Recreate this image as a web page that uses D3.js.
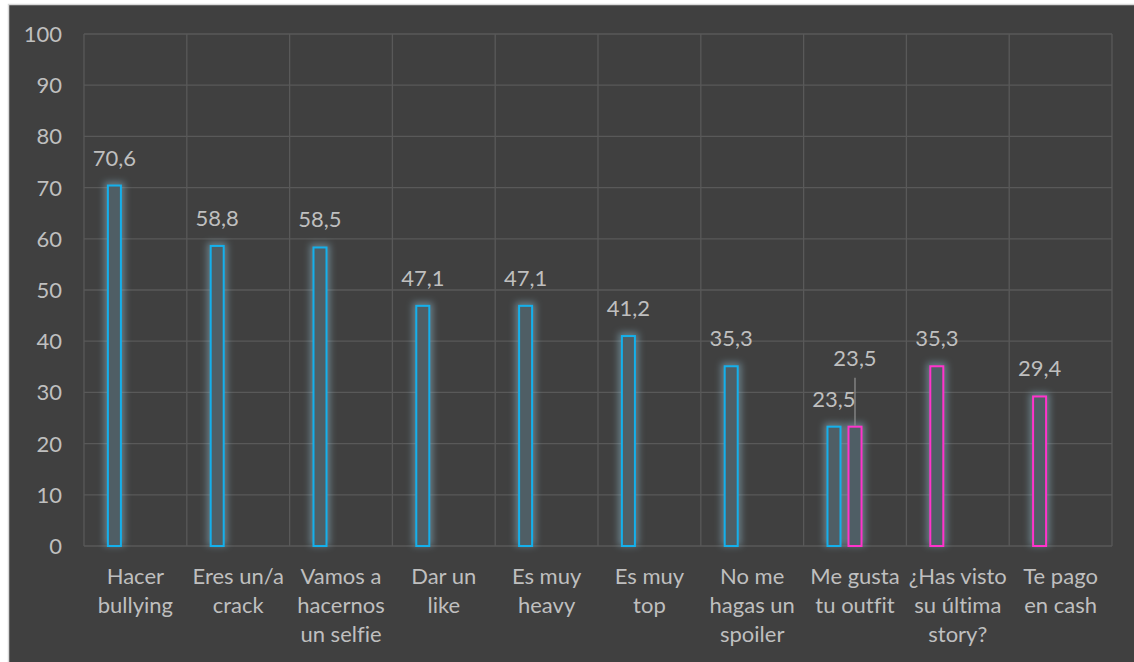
<!DOCTYPE html>
<html><head><meta charset="utf-8">
<script src="https://cdn.jsdelivr.net/npm/d3@7"></script>
<style>
html,body{margin:0;padding:0;background:#ffffff;}
svg{display:block;}
text{font-variant-ligatures:none;font-feature-settings:"liga" 0;}
</style></head>
<body>
<svg id="chart" width="1134" height="662"></svg>
<script>
// ---- data ----
const categories = [
  ["Hacer","bullying"],
  ["Eres un/a","crack"],
  ["Vamos a","hacernos","un selfie"],
  ["Dar un","like"],
  ["Es muy","heavy"],
  ["Es muy","top"],
  ["No me","hagas un","spoiler"],
  ["Me gusta","tu outfit"],
  ["¿Has visto","su última","story?"],
  ["Te pago","en cash"]
];
const slots = ["s1","s2","s3"];
// first slot values, with point colour group
const series1Values = [70.6, 58.8, 58.5, 47.1, 47.1, 41.2, 35.3, 23.5, 35.3, 29.4];
const series1Groups = ["azul","azul","azul","azul","azul","azul","azul","azul","rosa","rosa"];
// second slot values
const series2Values = [null, null, null, null, null, null, null, 23.5, null, null];
const series2Groups = ["rosa","rosa","rosa","rosa","rosa","rosa","rosa","rosa","rosa","rosa"];
const yTicks = [0,10,20,30,40,50,60,70,80,90,100];

const colors = {azul:"#14b0ec", rosa:"#ff33cc"};

const svg = d3.select("#chart");
const W = 1134, H = 662;
// chart background
svg.append("rect").attr("x",8.5).attr("y",4.5).attr("width",W).attr("height",H)
  .attr("fill","#404040").attr("stroke","#d9d9d9").attr("stroke-width",1.5);

const plot = {left:84, right:1112, top:34, bottom:546};

const x = d3.scaleBand().domain(d3.range(categories.length)).range([plot.left, plot.right]).padding(0);
const x1 = d3.scaleBand().domain(slots).range([0, x.bandwidth()]).paddingInner(0.2857).paddingOuter(1.09);
const y = d3.scaleLinear().domain([0,100]).range([plot.bottom, plot.top]);

const defs = svg.append("defs");
const f = defs.append("filter").attr("id","glow").attr("x","-100%").attr("y","-20%").attr("width","300%").attr("height","140%");
f.append("feGaussianBlur").attr("stdDeviation",3.5);

const grid = svg.append("g");
// horizontal gridlines
grid.selectAll("line.h").data(yTicks).join("line")
  .attr("x1",plot.left).attr("x2",plot.right)
  .attr("y1",d=>y(d)).attr("y2",d=>y(d))
  .attr("stroke","#595959").attr("stroke-width",1.3);
// vertical gridlines at band boundaries
const bounds = d3.range(categories.length+1).map(i => i<categories.length ? x(i) : plot.right);
grid.selectAll("line.v").data(bounds).join("line")
  .attr("x1",d=>d).attr("x2",d=>d)
  .attr("y1",plot.top).attr("y2",plot.bottom)
  .attr("stroke","#595959").attr("stroke-width",1.3);

const font = "Lato, 'Open Sans', sans-serif";
const txt = "#bfbfbf";
const fs = 22;

// y axis labels
svg.append("g").selectAll("text").data(yTicks).join("text")
  .attr("x",62).attr("y",d=>y(d)).attr("dy","0.36em")
  .attr("text-anchor","end").attr("font-family",font).attr("font-size",fs)
  .attr("fill",txt).text(d=>d);

// category labels
const cat = svg.append("g").selectAll("text").data(categories).join("text")
  .attr("text-anchor","middle").attr("font-family",font).attr("font-size",fs).attr("fill",txt);
cat.each(function(lines,i){
  d3.select(this).selectAll("tspan").data(lines).join("tspan")
    .attr("x", x(i)+x.bandwidth()/2)
    .attr("y",(d,j)=>584 + j*29)
    .text(d=>d);
});

// bars
const bars = [];
series1Values.forEach((v,i)=>{ if(v!=null) bars.push({i, slot:"s1", v, g:series1Groups[i]}); });
series2Values.forEach((v,i)=>{ if(v!=null) bars.push({i, slot:"s2", v, g:series2Groups[i]}); });

const bx = d => x(d.i) + x1(d.slot);
const bw = x1.bandwidth();

svg.append("g").selectAll("rect").data(bars).join("rect")
  .attr("x",d=>bx(d)-2.5).attr("y",d=>y(d.v)-2.5)
  .attr("width",bw+5).attr("height",d=>y(0)-y(d.v)+2.5)
  .attr("fill","#8ab3c4").attr("opacity",0.55).attr("filter","url(#glow)");

svg.append("g").selectAll("rect").data(bars).join("rect")
  .attr("x",d=>bx(d)+1).attr("y",d=>y(d.v)+1)
  .attr("width",bw-2).attr("height",d=>y(0)-y(d.v)-1)
  .attr("fill","#4f5e65").attr("stroke",d=>colors[d.g]).attr("stroke-width",2);

// value labels (the second slot label lifted with a leader line)
const fmt = v => d3.format(".1f")(v).replace(".",",");
const labelLift = d => d.slot==="s2" ? 41 : 0;
svg.append("g").selectAll("line").data(bars.filter(d=>labelLift(d)>0)).join("line")
  .attr("x1",d=>bx(d)+bw/2).attr("x2",d=>bx(d)+bw/2)
  .attr("y1",d=>y(d.v)-48).attr("y2",d=>y(d.v))
  .attr("stroke","#8c8c8c").attr("stroke-width",1.3);
svg.append("g").selectAll("text").data(bars).join("text")
  .attr("x",d=>bx(d)+bw/2).attr("y",d=>y(d.v)-19-labelLift(d))
  .attr("text-anchor","middle").attr("font-family",font).attr("font-size",fs)
  .attr("fill",txt).text(d=>fmt(d.v));
</script>
</body></html>
